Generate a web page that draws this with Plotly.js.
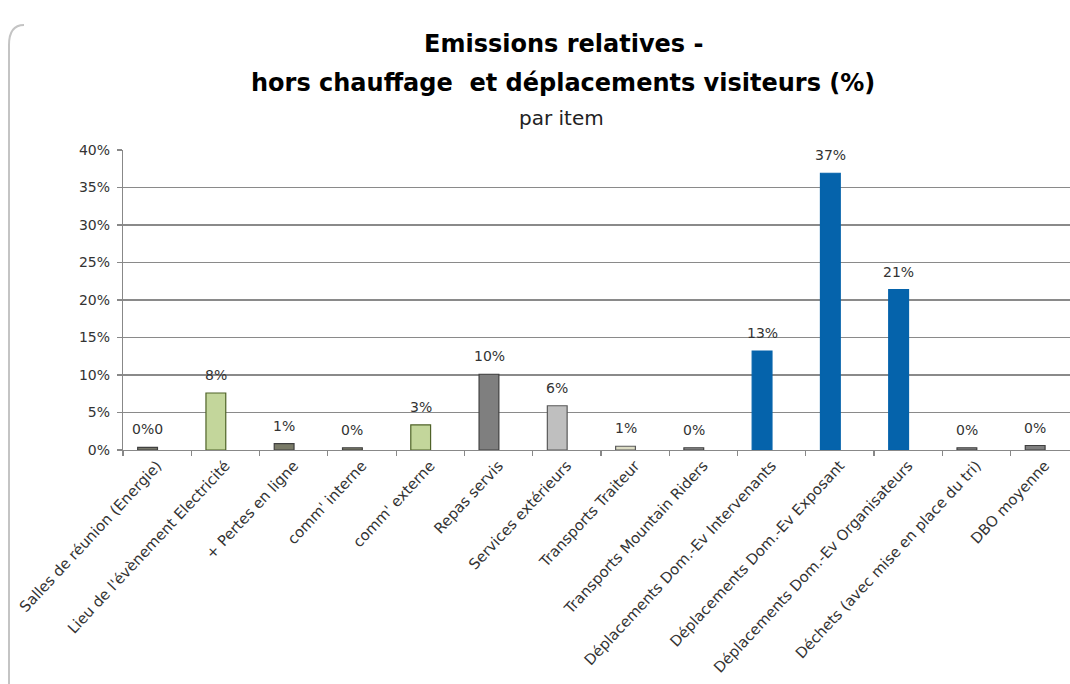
<!DOCTYPE html>
<html>
<head>
<meta charset="utf-8">
<script src="https://cdn.plot.ly/plotly-3.0.1.min.js"></script>
<style>html,body{margin:0;padding:0;background:#fff;}#chart{width:1070px;height:684px;}</style>
</head>
<body>
<div id="chart"></div>
<script>
const categories = [
  "Salles de réunion (Energie)",
  "Lieu de l'évènement Electricité",
  "+ Pertes en ligne",
  "comm' interne",
  "comm' externe",
  "Repas servis",
  "Services extérieurs",
  "Transports Traiteur",
  "Transports Mountain Riders",
  "Déplacements Dom.-Ev Intervenants",
  "Déplacements Dom.-Ev Exposant",
  "Déplacements Dom.-Ev Organisateurs",
  "Déchets (avec mise en place du tri)",
  "DBO moyenne"
];
const values = [0.35, 7.6, 0.85, 0.3, 3.35, 10.1, 5.9, 0.5, 0.3, 13.2, 36.9, 21.4, 0.3, 0.6];
const valueLabels = ["0%0", "8%", "1%", "0%", "3%", "10%", "6%", "1%", "0%", "13%", "37%", "21%", "0%", "0%"];
const barColors = ["#77776a", "#c3d69b", "#7a7b68", "#7a7b68", "#c3d69b", "#7f7f7f", "#bfbfbf", "#dcdcc4", "#8c8c8c", "#0563ab", "#0563ab", "#0563ab", "#7f7f7f", "#7f7f7f"];
const borderColors = ["#404040", "#4f6228", "#404040", "#404040", "#4f6228", "#404040", "#595959", "#595959", "#404040", "#0563ab", "#0563ab", "#0563ab", "#404040", "#404040"];
const titleLines = ["Emissions relatives -", "hors chauffage  et déplacements visiteurs (%)"];
const subtitle = "par item";

const L = 123, R = 0, T = 150, B = 234, W = 1070, H = 684;
const pw = W - L - R, ph = H - T - B;
const px2x = p => (p - L) / pw;
const py2y = p => (H - B - p) / ph;

const FONT = "DejaVu Sans, Verdana, sans-serif";

const trace = {
  type: "bar",
  x: categories,
  y: values,
  width: 0.29,
  offset: -0.285,
  marker: { color: barColors, line: { color: borderColors, width: 1.2 } },
  hoverinfo: "x+y"
};

const annotations = categories.map((c, i) => ({
  x: c, y: values[i], xref: "x", yref: "y",
  text: valueLabels[i], showarrow: false,
  yanchor: "bottom", xanchor: "center",
  xshift: -9.5, yshift: 8,
  font: { family: FONT, size: 14, color: "#333333" }
}));

annotations.push(
  { xref: "paper", yref: "paper", x: px2x(563), y: py2y(44), xanchor: "center", yanchor: "middle",
    text: titleLines[0], showarrow: false, font: { family: FONT, size: 24, color: "#000", weight: "bold" } },
  { xref: "paper", yref: "paper", x: px2x(563), y: py2y(83), xanchor: "center", yanchor: "middle",
    text: titleLines[1], showarrow: false, font: { family: FONT, size: 24, color: "#000", weight: "bold" } },
  { xref: "paper", yref: "paper", x: px2x(561), y: py2y(118), xanchor: "center", yanchor: "middle",
    text: subtitle, showarrow: false, font: { family: FONT, size: 20, color: "#222" } }
);

const bx = px2x(9), by0 = py2y(684), by1 = py2y(45), bx2 = px2x(24), by2 = py2y(25);
const shapes = [{
  type: "path", xref: "paper", yref: "paper",
  path: `M ${bx},${by0} L ${bx},${by1} Q ${bx},${by2} ${bx2},${by2}`,
  line: { color: "#c4c4c4", width: 2 }
}];

const layout = {
  width: W, height: H,
  margin: { l: L, r: R, t: T, b: B, pad: 0 },
  paper_bgcolor: "#ffffff", plot_bgcolor: "#ffffff",
  showlegend: false,
  font: { family: FONT, color: "#333" },
  xaxis: {
    type: "category",
    range: [-0.5, 13.37],
    tickangle: -47,
    tickson: "boundaries",
    ticks: "outside", ticklen: 5, tickcolor: "#888", tickwidth: 1.2,
    showline: true, linecolor: "#888", linewidth: 1.2,
    showgrid: false, zeroline: false,
    tickfont: { family: FONT, size: 14.8, color: "#333" },
    automargin: false
  },
  yaxis: {
    range: [0, 40], dtick: 5, ticksuffix: "%",
    ticks: "outside", ticklen: 5, tickcolor: "#888", tickwidth: 1.2,
    ticklabelstandoff: 4,
    showline: true, linecolor: "#888", linewidth: 1.2,
    showgrid: true, gridcolor: "#8a8a8a", gridwidth: 1.3,
    zeroline: false,
    tickfont: { family: FONT, size: 14, color: "#333" },
    automargin: false
  },
  annotations: annotations,
  shapes: shapes
};

Plotly.newPlot("chart", [trace], layout, { displayModeBar: false, staticPlot: true });
</script>
</body>
</html>
